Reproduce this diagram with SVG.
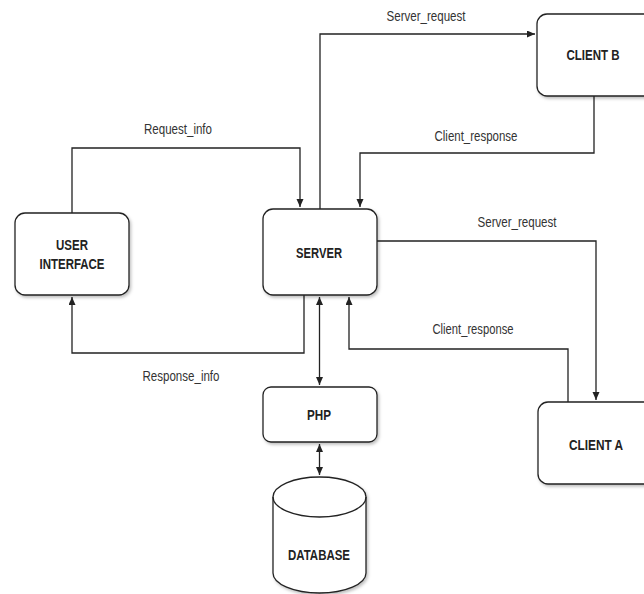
<svg xmlns="http://www.w3.org/2000/svg" width="644" height="594" viewBox="0 0 644 594">
<style>
.box{fill:#fff;stroke:#222;stroke-width:1.3;filter:url(#sh)}
.ln{fill:none;stroke:#222;stroke-width:1.3}
.nt{font-family:"Liberation Sans",Arial,sans-serif;font-weight:bold;font-size:14.5px;fill:#222;text-anchor:middle;dominant-baseline:central}
.lb{font-family:"Liberation Sans",Arial,sans-serif;font-size:14px;fill:#333;text-anchor:middle;dominant-baseline:central}
</style>
<defs>
<filter id="sh" x="-10%" y="-10%" width="130%" height="130%">
<feDropShadow dx="1.5" dy="2" stdDeviation="1.5" flood-color="#000" flood-opacity="0.25"/>
</filter>
<marker id="ar" markerUnits="userSpaceOnUse" markerWidth="10" markerHeight="8" refX="8" refY="3.5" orient="auto-start-reverse">
<path d="M0,0 L8,3.5 L0,7 z" fill="#222"/>
</marker>
</defs>
<g id="connectors">
<path class="ln" d="M320,209 V34 H535" marker-end="url(#ar)"/>
<path class="ln" d="M594,96 V153 H360 V207" marker-end="url(#ar)"/>
<path class="ln" d="M72,213 V148 H300 V207" marker-end="url(#ar)"/>
<path class="ln" d="M304,295 V353 H72 V297" marker-end="url(#ar)"/>
<path class="ln" d="M319.5,297 V385" marker-start="url(#ar)" marker-end="url(#ar)"/>
<path class="ln" d="M319.5,444 V475" marker-start="url(#ar)" marker-end="url(#ar)"/>
<path class="ln" d="M377,241 H596 V400" marker-end="url(#ar)"/>
<path class="ln" d="M568,402 V349 H349 V297" marker-end="url(#ar)"/>
<text class="lb" x="426" y="16" textLength="79" lengthAdjust="spacingAndGlyphs">Server_request</text>
<text class="lb" x="178" y="129" textLength="68" lengthAdjust="spacingAndGlyphs">Request_info</text>
<text class="lb" x="476" y="136" textLength="83" lengthAdjust="spacingAndGlyphs">Client_response</text>
<text class="lb" x="517" y="222" textLength="79" lengthAdjust="spacingAndGlyphs">Server_request</text>
<text class="lb" x="473" y="329" textLength="81" lengthAdjust="spacingAndGlyphs">Client_response</text>
<text class="lb" x="181" y="376" textLength="77" lengthAdjust="spacingAndGlyphs">Response_info</text>
</g>
<g id="user-interface">
<rect class="box" x="15" y="213" width="114" height="82" rx="10"/>
<text class="nt" x="72" y="245" textLength="32" lengthAdjust="spacingAndGlyphs">USER</text>
<text class="nt" x="72" y="264" textLength="65" lengthAdjust="spacingAndGlyphs">INTERFACE</text>
</g>
<g id="server">
<rect class="box" x="263" y="209" width="114" height="86" rx="10"/>
<text class="nt" x="319" y="253" textLength="46" lengthAdjust="spacingAndGlyphs">SERVER</text>
</g>
<g id="client-b">
<rect class="box" x="537" y="14" width="120" height="82" rx="10"/>
<text class="nt" x="593" y="55" textLength="53" lengthAdjust="spacingAndGlyphs">CLIENT B</text>
</g>
<g id="client-a">
<rect class="box" x="538" y="402" width="120" height="82" rx="10"/>
<text class="nt" x="596" y="445" textLength="54" lengthAdjust="spacingAndGlyphs">CLIENT A</text>
</g>
<g id="php">
<rect class="box" x="263" y="387" width="114" height="55" rx="8"/>
<text class="nt" x="319" y="415" textLength="24" lengthAdjust="spacingAndGlyphs">PHP</text>
</g>
<g id="database">
<path class="box" d="M273,497 A46.5,20 0 0 1 366,497 V573 A46.5,20 0 0 1 273,573 Z"/>
<path class="ln" d="M273,497 A46.5,20 0 0 0 366,497"/>
<text class="nt" x="319" y="555" textLength="62" lengthAdjust="spacingAndGlyphs">DATABASE</text>
</g>
</svg>
